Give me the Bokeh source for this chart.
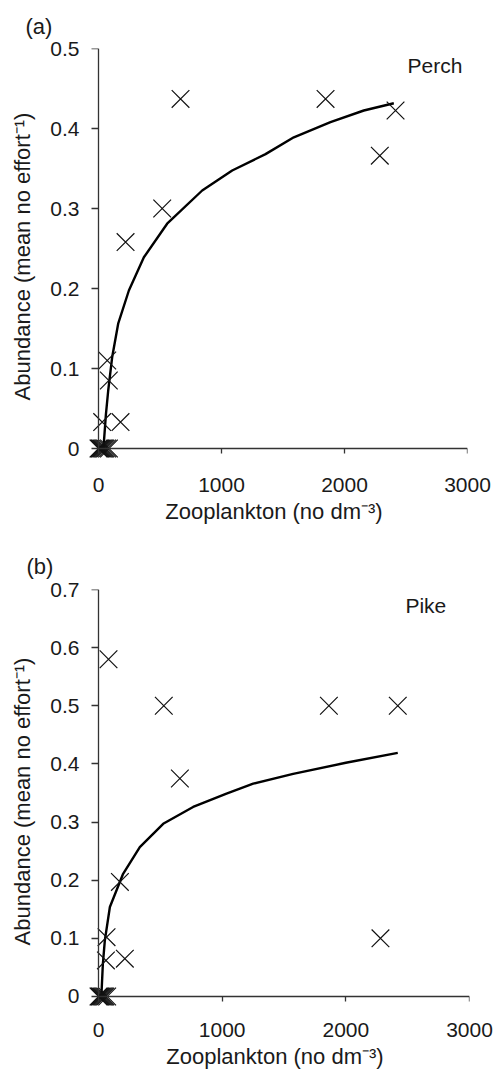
from bokeh.plotting import figure
from bokeh.layouts import column
from bokeh.models import Range1d, FixedTicker, Label, LinearAxis, CustomJSTickFormatter
from bokeh.embed import file_html
from bokeh.resources import INLINE

# ---- data ----
perch_x = [667, 1846, 2415, 2287, 518, 220, 71, 84, 30, 179,
           0, 8, 15, 25, 35, 45, 55, 70, 85]
perch_y = [0.437, 0.437, 0.4225, 0.366, 0.30, 0.258, 0.11, 0.085, 0.033, 0.033,
           0, 0, 0, 0, 0, 0, 0, 0, 0]
perch_fit_x = [38, 43, 60, 79, 111, 160, 247, 369, 558, 843, 1087, 1358, 1588, 1886, 2157, 2401]
perch_fit_y = [0, 0.006, 0.042, 0.0725, 0.114, 0.156, 0.1975, 0.239, 0.281, 0.3225, 0.3475,
               0.368, 0.389, 0.408, 0.4225, 0.4316]

pike_x = [81, 528, 1863, 2420, 658, 2280, 173, 65, 60, 213,
          0, 8, 15, 25, 35, 45, 55, 70]
pike_y = [0.58, 0.5, 0.5, 0.5, 0.375, 0.1, 0.197, 0.102, 0.062, 0.065,
          0, 0, 0, 0, 0, 0, 0, 0]
pike_fit_x = [22, 24, 35, 51, 92, 199, 334, 523, 765, 1035, 1251, 1574, 2000, 2420]
pike_fit_y = [0, 0.005, 0.055, 0.096, 0.154, 0.211, 0.257, 0.297, 0.326, 0.349, 0.366,
              0.383, 0.402, 0.419]

x_ticks = [0, 1000, 2000, 3000]
perch_y_ticks = [0, 0.1, 0.2, 0.3, 0.4, 0.5]
pike_y_ticks = [0, 0.1, 0.2, 0.3, 0.4, 0.5, 0.6, 0.7]

FONT = "Liberation Sans"
TICK_FS = "21px"
LAB_FS = "22px"
INK = "#1a1a1a"
AXC = "#333333"


def make_panel(xs, ys, fx, fy, yticks, xr, yr, tag, tag_offset, species, sp_pos,
               height, top, bottom, left, fh, fw, xlab_gap, xlab_std, ylab_std, title_std):
    p = figure(width=494, height=height, output_backend="svg", toolbar_location=None,
               x_range=Range1d(*xr), y_range=Range1d(*yr),
               frame_width=fw, frame_height=fh,
               min_border_left=left, min_border_right=494 - left - fw,
               min_border_top=top, min_border_bottom=bottom)
    p.outline_line_color = None
    p.xgrid.visible = False
    p.ygrid.visible = False
    p.background_fill_color = "white"
    p.border_fill_color = "white"

    p.title.text = tag
    p.title.align = "left"
    p.title.offset = tag_offset
    p.title.standoff = title_std
    p.title.text_font = FONT
    p.title.text_font_size = "22px"
    p.title.text_font_style = "normal"
    p.title.text_color = INK

    p.line(fx, fy, line_color="black", line_width=2.4)
    p.scatter(xs, ys, marker="x", size=25, line_color="#111111", line_width=1.2)

    # label-only axes at the frame edges
    for ax in (p.xaxis[0], p.yaxis[0]):
        ax.axis_line_color = None
        ax.major_tick_line_color = None
        ax.minor_tick_line_color = None
        ax.major_tick_in = 0
        ax.major_tick_out = 0
        ax.major_label_text_font = FONT
        ax.major_label_text_font_size = TICK_FS
        ax.major_label_text_color = INK
        ax.axis_label_text_font = FONT
        ax.axis_label_text_font_size = LAB_FS
        ax.axis_label_text_font_style = "normal"
        ax.axis_label_text_color = INK

    p.xaxis.ticker = FixedTicker(ticks=x_ticks)
    p.xaxis.major_label_standoff = xlab_gap
    p.xaxis.axis_label = "Zooplankton (no dm\u207b\u00b3)"
    p.xaxis.axis_label_standoff = xlab_std

    p.yaxis.ticker = FixedTicker(ticks=yticks)
    p.yaxis.major_label_overrides = {t: ("0" if t == 0 else f"{t:.1f}") for t in yticks}
    p.yaxis.major_label_standoff = 1
    p.yaxis.axis_label = "Abundance (mean no effort\u207b\u00b9)"
    p.yaxis.axis_label_standoff = ylab_std

    # line + tick axes drawn at the data zero (no labels of their own)
    blank = CustomJSTickFormatter(code="return ''")
    xline = LinearAxis(ticker=FixedTicker(ticks=x_ticks), fixed_location=0,
                       bounds=(0, 3000), axis_line_color=AXC, axis_line_width=1.3,
                       major_tick_line_color=AXC, major_tick_line_width=1.3,
                       major_tick_in=0, major_tick_out=5, minor_tick_line_color=None,
                       formatter=blank, major_label_standoff=0)
    yline = LinearAxis(ticker=FixedTicker(ticks=yticks), fixed_location=0,
                       bounds=(0, yticks[-1]), axis_line_color=AXC, axis_line_width=1.3,
                       major_tick_line_color=AXC, major_tick_line_width=1.3,
                       major_tick_in=0, major_tick_out=7, minor_tick_line_color=None,
                       formatter=blank, major_label_standoff=0)
    p.add_layout(xline, "below")
    p.add_layout(yline, "left")

    p.add_layout(Label(x=sp_pos[0], y=sp_pos[1], text=species, text_font=FONT,
                       text_font_size="21px", text_color=INK,
                       text_align="left", text_baseline="alphabetic"))
    return p


# panel (a): 0.123 px per unit in x, 800 px per unit in y
pa = make_panel(perch_x, perch_y, perch_fit_x, perch_fit_y, perch_y_ticks,
                (-146.3, 3000), (-0.02, 0.5), "(a)", -55, "Perch", (2512, 0.479),
                height=535, top=48, bottom=71, left=80, fh=416, fw=387,
                xlab_gap=13, xlab_std=4, ylab_std=12, title_std=20)
# panel (b): 0.12367 px per unit in x, 581 px per unit in y
pb = make_panel(pike_x, pike_y, pike_fit_x, pike_fit_y, pike_y_ticks,
                (-145.6, 3000), (-0.02924, 0.7), "(b)", -54, "Pike", (2482, 0.672),
                height=536, top=54, bottom=58, left=79, fh=424, fw=389,
                xlab_gap=9, xlab_std=4, ylab_std=12, title_std=22)

layout = column(pa, pb, spacing=0)
open("out.html", "w").write(file_html(layout, INLINE))
